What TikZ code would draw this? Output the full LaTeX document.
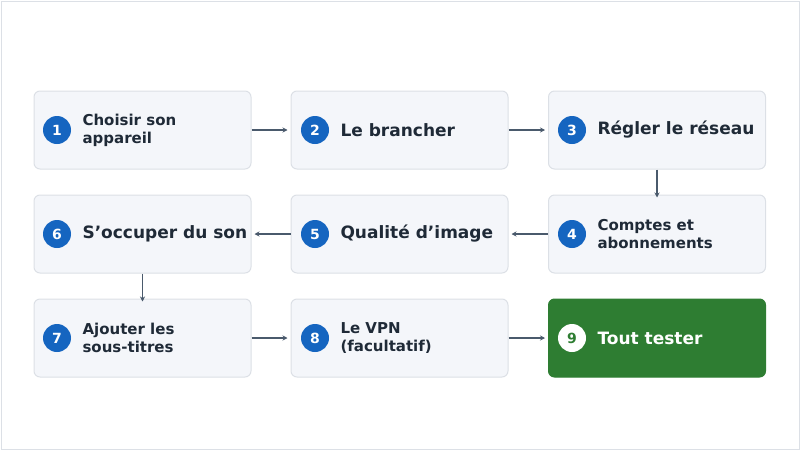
\documentclass[tikz,border=0pt]{standalone}
\usepackage{fontspec}
\setmainfont{DejaVu Sans}
\usetikzlibrary{arrows.meta}
\definecolor{bxfill}{HTML}{F4F6FA}
\definecolor{bxdraw}{HTML}{DCE0E6}
\definecolor{blu}{HTML}{1565C0}
\definecolor{grn}{HTML}{2E7D32}
\definecolor{txt}{HTML}{1F2A37}
\definecolor{arr}{HTML}{4A5A6C}
\newcommand{\apos}{\char"0027\relax}
\begin{document}
\begin{tikzpicture}[x=1pt,y=-1pt,
 box/.style={draw=bxdraw,fill=bxfill,rounded corners=6pt,line width=1pt,minimum width=217pt,minimum height=78pt,inner sep=0pt},
 num/.style={circle,fill=blu,text=white,minimum size=28pt,inner sep=0pt,font=\bfseries\fontsize{14}{14}\selectfont},
 lab/.style={anchor=west,text=txt,font=\bfseries\fontsize{17}{20}\selectfont,align=left},
 lab2/.style={anchor=west,text=txt,font=\bfseries\fontsize{15}{18}\selectfont,align=left},
 ar/.style={draw=arr,line width=1.2pt,-{Stealth[length=5pt,width=5pt]}}]
\useasboundingbox (0,0) rectangle (800,450);
\draw[bxdraw,line width=1pt] (1,1) rectangle (799,449);
\node[box] (b1) at (142.5,130) {};
\node[box] (b2) at (399.5,130) {};
\node[box] (b3) at (657,130) {};
\node[box] (b4) at (657,234) {};
\node[box] (b5) at (399.5,234) {};
\node[box] (b6) at (142.5,234) {};
\node[box] (b7) at (142.5,338) {};
\node[box] (b8) at (399.5,338) {};
\node[box,fill=grn,draw=grn] (b9) at (657,338) {};
\node[num] (n1) at (57,130) {1}; \node[lab2] at (79,130) {Choisir son\\appareil};
\node[num] (n2) at (315,130) {2}; \node[lab] at (337,130) {Le brancher};
\node[num] (n3) at (572,130) {3}; \node[lab] at (594,130) {Régler le réseau};
\node[num] (n4) at (572,234) {4}; \node[lab2] at (594,234) {Comptes et\\abonnements};
\node[num] (n5) at (315,234) {5}; \node[lab] at (337,234) {Qualité d\apos image};
\node[num] (n6) at (57,234) {6}; \node[lab] at (79,234) {S\apos occuper du son};
\node[num] (n7) at (57,338) {7}; \node[lab2] at (79,338) {Ajouter les\\sous-titres};
\node[num] (n8) at (315,338) {8}; \node[lab2] at (337,338) {Le VPN\\(facultatif)};
\node[num,fill=white,text=grn] (n9) at (572,338) {9}; \node[lab,text=white] at (594,338) {Tout tester};
\draw[ar] (b1.east) -- ([xshift=-3pt]b2.west);
\draw[ar] (b2.east) -- ([xshift=-3pt]b3.west);
\draw[ar] (b3.south) -- ([yshift=-3pt]b4.north);
\draw[ar] (b4.west) -- ([xshift=3pt]b5.east);
\draw[ar] (b5.west) -- ([xshift=3pt]b6.east);
\draw[ar] (b6.south) -- ([yshift=-3pt]b7.north);
\draw[ar] (b7.east) -- ([xshift=-3pt]b8.west);
\draw[ar] (b8.east) -- ([xshift=-3pt]b9.west);
\end{tikzpicture}
\end{document}
